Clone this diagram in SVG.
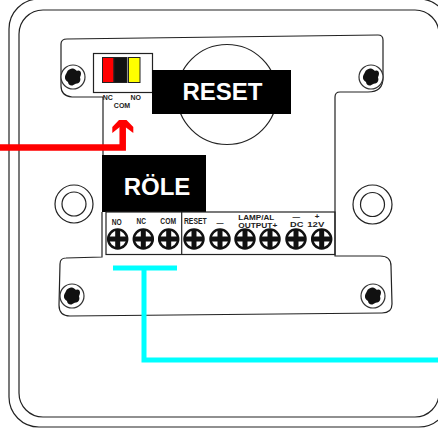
<svg xmlns="http://www.w3.org/2000/svg" width="438" height="434" viewBox="0 0 438 434">
<style>
.ln{fill:none;stroke:#222;stroke-width:1.2}
.lb{font-family:"Liberation Sans",Arial,sans-serif;font-weight:700;fill:#222;text-anchor:middle}
.s{font-size:7px}
.n{font-size:9.500px}
.w{font-size:8px}
.big{font-family:"Liberation Sans",Arial,sans-serif;font-weight:700;font-size:24px;fill:#fff;text-anchor:middle}
.hole{fill:#fff;stroke:#333;stroke-width:1.2}
.tc{fill:#fff;stroke:#111;stroke-width:2.500}
.tx{stroke:#111;stroke-width:5;fill:none}
</style>
<defs>
<g id="torx">
<circle class="hole" r="12"/>
<path d="M-1-8.500C1-9 3-7 4-6 6-7 8-6 8-3.500 8-1.500 7-0.500 7 0.500 8 3 7 6 4 6.500 2 6.500 1.500 7.500-0.500 8.500-3 9-5 7-5 5-7 4-8.500 2-8-0.500-7.500-3-6.500-3.500-6-5-5.500-7-3-8-1-8.500Z" fill="#111"/>
</g>
<g id="term">
<circle class="tc" r="9.500"/>
<path class="tx" d="M-10 0H10M0-10V10"/>
</g>
</defs>
<g id="enclosure">
<rect class="ln" x="9" y="-1" width="440" height="428" rx="30"/>
<rect class="ln" x="19" y="10" width="420" height="407" rx="24"/>
</g>
<g id="plate">
<path class="ln" d="M103 155V97H72Q61 96 61 86V44Q61 39 67 39L378 35Q383 35 383 40V78Q383 92 368 92H340Q335 92 335 97V256H380Q391 256 391 266L392 304Q392 313 382 313L70 316Q59 316 59 305L60 264Q60 258 66 258L102 257V212"/>
</g>
<g id="reset-button">
<circle class="ln" cx="227" cy="94.500" r="50"/>
</g>
<g id="screws">
<use href="#torx" x="73" y="77"/>
<use href="#torx" x="371" y="77"/>
<use href="#torx" x="72" y="296"/>
<use href="#torx" x="373" y="296"/>
</g>
<g id="side-holes">
<circle class="ln" cx="74" cy="204" r="19"/><circle class="ln" cx="74" cy="204" r="12"/>
<circle class="ln" cx="372.500" cy="204.500" r="19.500"/><circle class="ln" cx="372.500" cy="204.500" r="12"/>
</g>
<g id="dip-switch">
<rect class="ln" x="93.500" y="53.500" width="59" height="39" fill="#fff"/>
<rect x="102.500" y="57.500" width="11.500" height="25" fill="#f00" stroke="#222"/>
<rect x="114" y="57.500" width="13" height="25" fill="#111" stroke="#222"/>
<rect x="128.500" y="57.500" width="11.500" height="25" fill="#ff0" stroke="#222"/>
<text class="lb s" x="107.800" y="99.500">NC</text>
<text class="lb s" x="135.800" y="99.500">NO</text>
<text class="lb s" x="122" y="108">COM</text>
</g>
<g id="reset-label">
<rect x="152" y="70" width="139" height="44" fill="#000"/>
<text class="big" x="222.500" y="100">RESET</text>
</g>
<g id="role-label">
<rect x="102" y="155" width="104" height="57" fill="#000"/>
<text class="big" x="157" y="195">RÖLE</text>
</g>
<g id="terminal-block">
<rect class="ln" x="106" y="212" width="229" height="42.500" fill="#fff"/>
<path class="ln" d="M181.700 212V254.500"/>
<text class="lb n" x="116.700" y="225" textLength="10" lengthAdjust="spacingAndGlyphs">NO</text>
<text class="lb n" x="141.300" y="224" textLength="9.500" lengthAdjust="spacingAndGlyphs">NC</text>
<text class="lb n" x="168.200" y="224" textLength="15.700" lengthAdjust="spacingAndGlyphs">COM</text>
<text class="lb n" x="195.300" y="224" textLength="22.700" lengthAdjust="spacingAndGlyphs">RESET</text>
<text class="lb w" x="220" y="225" textLength="7" lengthAdjust="spacingAndGlyphs">—</text>
<text class="lb w" x="256.300" y="219.500" textLength="36" lengthAdjust="spacingAndGlyphs">LAMP/AL</text>
<text class="lb w" x="257.800" y="227.700" textLength="39" lengthAdjust="spacingAndGlyphs">OUTPUT+</text>
<text class="lb w" x="296.300" y="219" textLength="7.500" lengthAdjust="spacingAndGlyphs">—</text>
<text class="lb w" x="296.700" y="226.700" textLength="13.300" lengthAdjust="spacingAndGlyphs">DC</text>
<text class="lb w" x="317" y="218.500">+</text>
<text class="lb w" x="315.800" y="226.700" textLength="17" lengthAdjust="spacingAndGlyphs">12V</text>
<use href="#term" x="117.700" y="239"/>
<use href="#term" x="143.300" y="239"/>
<use href="#term" x="168.700" y="239"/>
<use href="#term" x="194" y="239"/>
<use href="#term" x="220" y="239"/>
<use href="#term" x="245" y="239"/>
<use href="#term" x="270" y="239"/>
<use href="#term" x="296" y="239"/>
<use href="#term" x="321.700" y="239"/>
</g>
<g id="connectors">
<path d="M0 147.500H122.700V126" fill="none" stroke="#f00" stroke-width="6.500"/>
<path d="M112.300 133V127L119 120H126.500L133.300 127V133L124 126H121Z" fill="#f00"/>
<path d="M113 268H177M144 268V360H438" fill="none" stroke="#0ff" stroke-width="5"/>
</g>
</svg>
